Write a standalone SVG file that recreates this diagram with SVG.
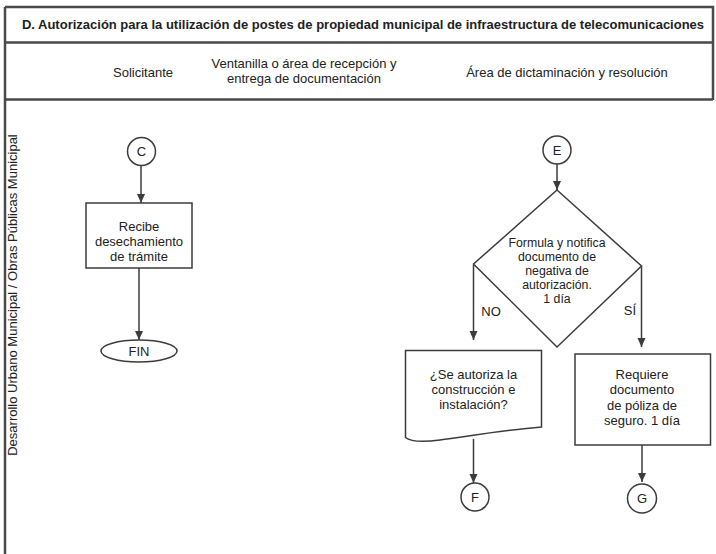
<svg xmlns="http://www.w3.org/2000/svg" width="716" height="554" viewBox="0 0 716 554">
<defs>
<marker id="ah" markerWidth="10" markerHeight="10" refX="9" refY="5" orient="auto" markerUnits="userSpaceOnUse">
<path d="M0,1 L9,5 L0,9 Z" fill="#3c3c3c"/>
</marker>
<style>
.frame{fill:none;stroke:#4a4a4a;stroke-width:2.5}
.shape{fill:#fff;stroke:#3c3c3c;stroke-width:1.5}
.conn{fill:none;stroke:#3c3c3c;stroke-width:1.5;marker-end:url(#ah)}
text{font-family:"Liberation Sans",Arial,sans-serif;font-size:13px;fill:#222;text-anchor:middle}
.title{font-weight:bold;font-size:13px}
.dt{font-size:12.3px}
</style>
</defs>
<rect width="716" height="554" fill="#fff"/>
<g id="frame">
<path class="frame" d="M5,7 H713 V100 M5,7 V554 M5,42.5 H713 M5,99.5 H713"/>
<text class="title" x="363" y="29">D. Autorización para la utilización de postes de propiedad municipal de infraestructura de telecomunicaciones</text>
<text x="143" y="77">Solicitante</text>
<text x="304" y="68">Ventanilla o área de recepción y</text>
<text x="304" y="83">entrega de documentación</text>
<text x="567" y="77">Área de dictaminación y resolución</text>
<text transform="translate(17,295) rotate(-90)">Desarrollo Urbano Municipal / Obras Públicas Municipal</text>
</g>
<g id="connectors">
<path class="conn" d="M141,166 V203"/>
<path class="conn" d="M139,268 V340"/>
<path class="conn" d="M557,164 V190"/>
<path class="conn" d="M473.5,265 V340"/>
<path class="conn" d="M641.5,266 V347"/>
<path class="conn" d="M473.5,439 V483"/>
<path class="conn" d="M642,445 V482"/>
<text x="491" y="316">NO</text>
<text x="630" y="315">SÍ</text>
</g>
<g id="nodeC">
<circle class="shape" cx="141.5" cy="151.5" r="14"/>
<text x="141.5" y="156">C</text>
</g>
<g id="nodeRecibe">
<rect class="shape" x="86" y="203" width="106" height="65"/>
<text x="139" y="231">Recibe</text>
<text x="139" y="246">desechamiento</text>
<text x="139" y="261">de trámite</text>
</g>
<g id="nodeFIN">
<ellipse class="shape" cx="139" cy="351" rx="38" ry="11"/>
<text x="139" y="355.5">FIN</text>
</g>
<g id="nodeE">
<circle class="shape" cx="557" cy="150" r="14"/>
<text x="557" y="154.5">E</text>
</g>
<g id="nodeDecision">
<path class="shape" d="M557,190 L641.5,266 L557,347 L473.5,264 Z"/>
<text class="dt" x="557" y="247">Formula y notifica</text>
<text class="dt" x="557" y="261">documento de</text>
<text class="dt" x="557" y="275">negativa de</text>
<text class="dt" x="557" y="289">autorización.</text>
<text class="dt" x="557" y="303">1 día</text>
</g>
<g id="nodeDoc">
<path class="shape" d="M405.5,350.5 H541.5 V427 C 505,430 470,436 440,440 C 425,442 411,442 405.5,437.5 Z"/>
<text x="473.5" y="379">¿Se autoriza la</text>
<text x="473.5" y="394">construcción e</text>
<text x="473.5" y="409">instalación?</text>
</g>
<g id="nodeRequiere">
<rect class="shape" x="575" y="354" width="135.5" height="91"/>
<text x="642" y="379">Requiere</text>
<text x="642" y="394">documento</text>
<text x="642" y="410">de póliza de</text>
<text x="642" y="425">seguro. 1 día</text>
</g>
<g id="nodeF">
<circle class="shape" cx="475" cy="497" r="14"/>
<text x="475" y="501.5">F</text>
</g>
<g id="nodeG">
<circle class="shape" cx="642" cy="498.5" r="14.5"/>
<text x="642" y="503">G</text>
</g>
</svg>
